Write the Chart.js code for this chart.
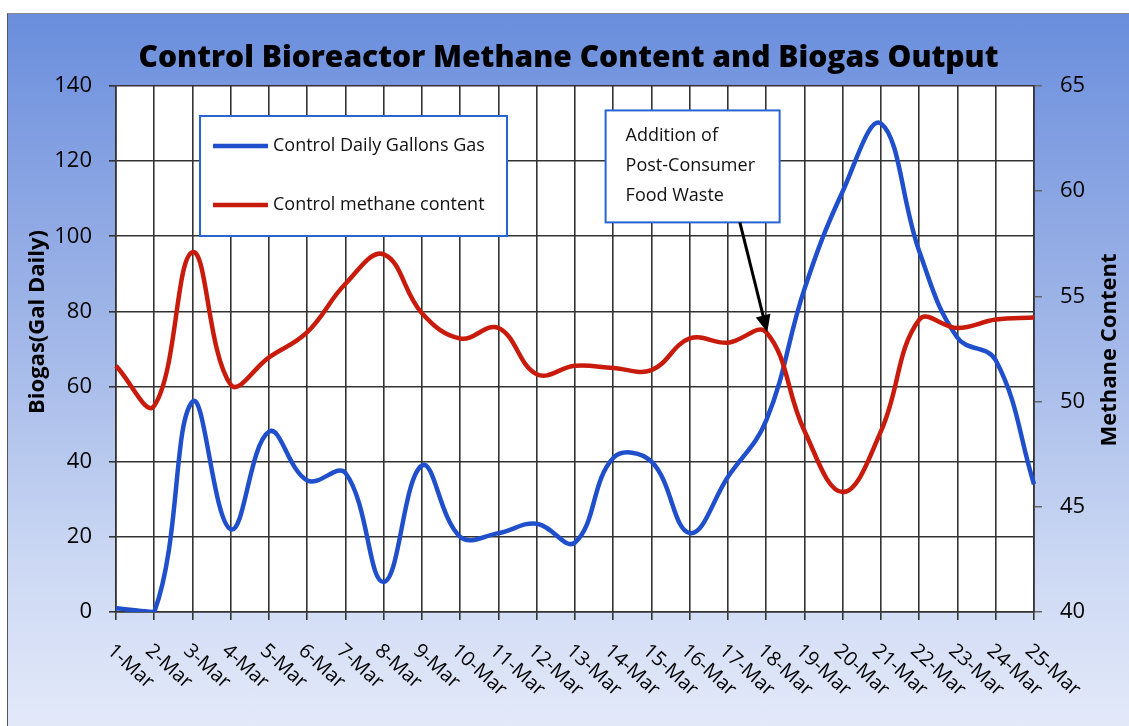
<!DOCTYPE html>
<html lang="en">
<head>
  <meta charset="UTF-8" />
  <title>Control Bioreactor Methane Content and Biogas Output</title>
  <script src="https://cdn.jsdelivr.net/npm/chart.js@4"></script>
  <style>
    body { margin: 0; background: #fff; }
    #frame {
      position: absolute; left: 7px; top: 13px; width: 1122px; height: 713px;
      border-left: 1px solid #555; border-top: 1px solid #888;
      background: linear-gradient(180deg, #6a8edd 0%, #86a2e2 22%, #a8bcea 50%, #cdd9f4 78%, #e3e9f9 100%);
    }
    #chart { position: absolute; left: 0; top: 0; }
  </style>
</head>
<body>
  <div id="frame"><canvas id="chart" width="1121" height="712"></canvas></div>

  <script>
    // categories
    const days = ['1-Mar','2-Mar','3-Mar','4-Mar','5-Mar','6-Mar','7-Mar','8-Mar','9-Mar','10-Mar',
                  '11-Mar','12-Mar','13-Mar','14-Mar','15-Mar','16-Mar','17-Mar','18-Mar','19-Mar','20-Mar',
                  '21-Mar','22-Mar','23-Mar','24-Mar','25-Mar'];
    // Control Daily Gallons Gas (left axis)
    const gasGallons = [1, 0, 56, 22, 48, 35, 37, 8, 39, 20, 21, 23.5, 18.5, 41, 40, 21, 36, 51, 86, 112, 130, 96, 73, 67, 34];
    // Control methane content (right axis)
    const methane = [51.7, 49.8, 57.1, 50.8, 52.1, 53.3, 55.6, 57.0, 54.2, 53.0, 53.5, 51.3, 51.7, 51.6, 51.5, 53.0, 52.8, 53.3, 48.6, 45.7, 48.6, 53.9, 53.5, 53.9, 54.0];
    // axis ranges / ticks
    const gasTicks = [0, 140, 20];
    const methaneTicks = [40, 65, 5];
    // annotation
    const noteLines = ['Addition of', 'Post-Consumer', 'Food Waste'];
    const noteAt = { day: 17, methane: 53.3 };

    const FONT = "'Open Sans', 'DejaVu Sans', sans-serif";
    const GRID = '#333';
    const BLUE = '#1f4fcb';
    const RED = '#c81b0c';

    const overlay = {
      id: 'overlay',
      afterDraw(chart) {
        const ctx = chart.ctx;
        const xs = chart.scales.x, ys = chart.scales.y, yr = chart.scales.y1;
        const area = chart.chartArea;
        ctx.save();

        // rotated day labels
        ctx.fillStyle = '#000';
        ctx.font = '20px ' + FONT;
        ctx.textAlign = 'left';
        ctx.textBaseline = 'middle';
        chart.data.labels.forEach((lab, i) => {
          const x = xs.getPixelForTick(i);
          ctx.save();
          ctx.translate(x - 6, area.bottom + 36);
          ctx.rotate(Math.PI * 42 / 180);
          ctx.fillText(lab, 0, 0);
          ctx.restore();
        });

        // axis titles
        ctx.font = 'bold 22px ' + FONT;
        ctx.textAlign = 'center';
        ctx.fillStyle = '#000';
        ctx.save();
        ctx.translate(30, 308);
        ctx.rotate(-Math.PI / 2);
        ctx.fillText('Biogas(Gal Daily)', 0, 0);
        ctx.restore();
        ctx.save();
        ctx.translate(1102, 336);
        ctx.rotate(-Math.PI / 2);
        ctx.fillText('Methane Content', 0, 0);
        ctx.restore();

        // legend box
        const lx = area.left + 84, ly = area.top + 30;
        ctx.fillStyle = '#fff';
        ctx.fillRect(lx, ly, 307, 120);
        ctx.strokeStyle = '#2864d2';
        ctx.lineWidth = 2;
        ctx.strokeRect(lx, ly, 307, 120);
        ctx.font = '18px ' + FONT;
        ctx.textAlign = 'left';
        chart.data.datasets.forEach((ds, i) => {
          const y = ly + 30 + i * 59;
          ctx.strokeStyle = ds.borderColor;
          ctx.lineWidth = 4.5;
          ctx.beginPath();
          ctx.moveTo(lx + 13, y);
          ctx.lineTo(lx + 68, y);
          ctx.stroke();
          ctx.fillStyle = '#111';
          ctx.fillText(ds.label, lx + 73, y);
        });

        // annotation box
        const bx0 = xs.getPixelForValue(12.8), bx1 = xs.getPixelForValue(17.35);
        const by0 = ys.getPixelForValue(133.5), by1 = ys.getPixelForValue(103.7);
        ctx.fillStyle = '#fff';
        ctx.fillRect(bx0, by0, bx1 - bx0, by1 - by0);
        ctx.strokeStyle = '#2864d2';
        ctx.lineWidth = 2;
        ctx.strokeRect(bx0, by0, bx1 - bx0, by1 - by0);
        ctx.fillStyle = '#111';
        ctx.font = '18px ' + FONT;
        noteLines.forEach((t, i) => ctx.fillText(t, bx0 + 20, by0 + 25 + i * 30));

        // arrow to the 18-Mar point
        const tx = xs.getPixelForValue(noteAt.day) + 1, ty = yr.getPixelForValue(noteAt.methane);
        const sx = xs.getPixelForValue(16.31), sy = by1;
        const ang = Math.atan2(ty - sy, tx - sx);
        ctx.strokeStyle = '#000';
        ctx.fillStyle = '#000';
        ctx.lineWidth = 3;
        ctx.beginPath();
        ctx.moveTo(sx, sy);
        ctx.lineTo(tx - 12 * Math.cos(ang), ty - 12 * Math.sin(ang));
        ctx.stroke();
        ctx.beginPath();
        ctx.moveTo(tx, ty);
        ctx.lineTo(tx - 17 * Math.cos(ang) + 7.5 * Math.sin(ang), ty - 17 * Math.sin(ang) - 7.5 * Math.cos(ang));
        ctx.lineTo(tx - 17 * Math.cos(ang) - 7.5 * Math.sin(ang), ty - 17 * Math.sin(ang) + 7.5 * Math.cos(ang));
        ctx.closePath();
        ctx.fill();

        ctx.restore();
      }
    };

    const plotBg = {
      id: 'plotBg',
      beforeDraw(chart) {
        const a = chart.chartArea;
        chart.ctx.save();
        chart.ctx.fillStyle = '#fff';
        chart.ctx.fillRect(a.left, a.top, a.right - a.left, a.bottom - a.top);
        chart.ctx.restore();
      }
    };

    new Chart(document.getElementById('chart'), {
      type: 'line',
      data: {
        labels: days,
        datasets: [
          { label: 'Control Daily Gallons Gas', data: gasGallons, yAxisID: 'y', borderColor: BLUE,
            borderWidth: 4.5, pointRadius: 0, tension: 0.4, order: 1 },
          { label: 'Control methane content', data: methane, yAxisID: 'y1', borderColor: RED,
            borderWidth: 4.5, pointRadius: 0, tension: 0.4, order: 0 }
        ]
      },
      options: {
        responsive: false,
        animation: false,
        layout: { padding: 0, autoPadding: false },
        plugins: {
          legend: { display: false },
          tooltip: { enabled: false },
          title: {
            display: true,
            text: 'Control Bioreactor Methane Content and Biogas Output',
            color: '#000',
            font: { family: FONT, size: 30, weight: '800' },
            padding: { top: 26, bottom: 10 }
          }
        },
        scales: {
          x: {
            offset: false,
            grid: { color: GRID, lineWidth: 1.6, tickLength: 8, offset: false },
            border: { color: GRID, width: 1.6 },
            ticks: { display: false },
            afterFit: s => { s.height = 114; }
          },
          y: {
            position: 'left',
            min: gasTicks[0], max: gasTicks[1],
            ticks: { stepSize: gasTicks[2], color: '#000', padding: 17, font: { family: FONT, size: 22 } },
            grid: { color: GRID, lineWidth: 1.6, tickLength: 7 },
            border: { color: GRID, width: 1.6 },
            afterFit: s => { s.width = 108; }
          },
          y1: {
            position: 'right',
            min: methaneTicks[0], max: methaneTicks[1],
            ticks: { stepSize: methaneTicks[2], color: '#000', padding: 18, font: { family: FONT, size: 22 } },
            grid: { drawOnChartArea: false, color: '#666', lineWidth: 1.5, tickLength: 8 },
            border: { color: GRID, width: 1.6 },
            afterFit: s => { s.width = 95; }
          }
        }
      },
      plugins: [plotBg, overlay]
    });
  </script>
</body>
</html>
